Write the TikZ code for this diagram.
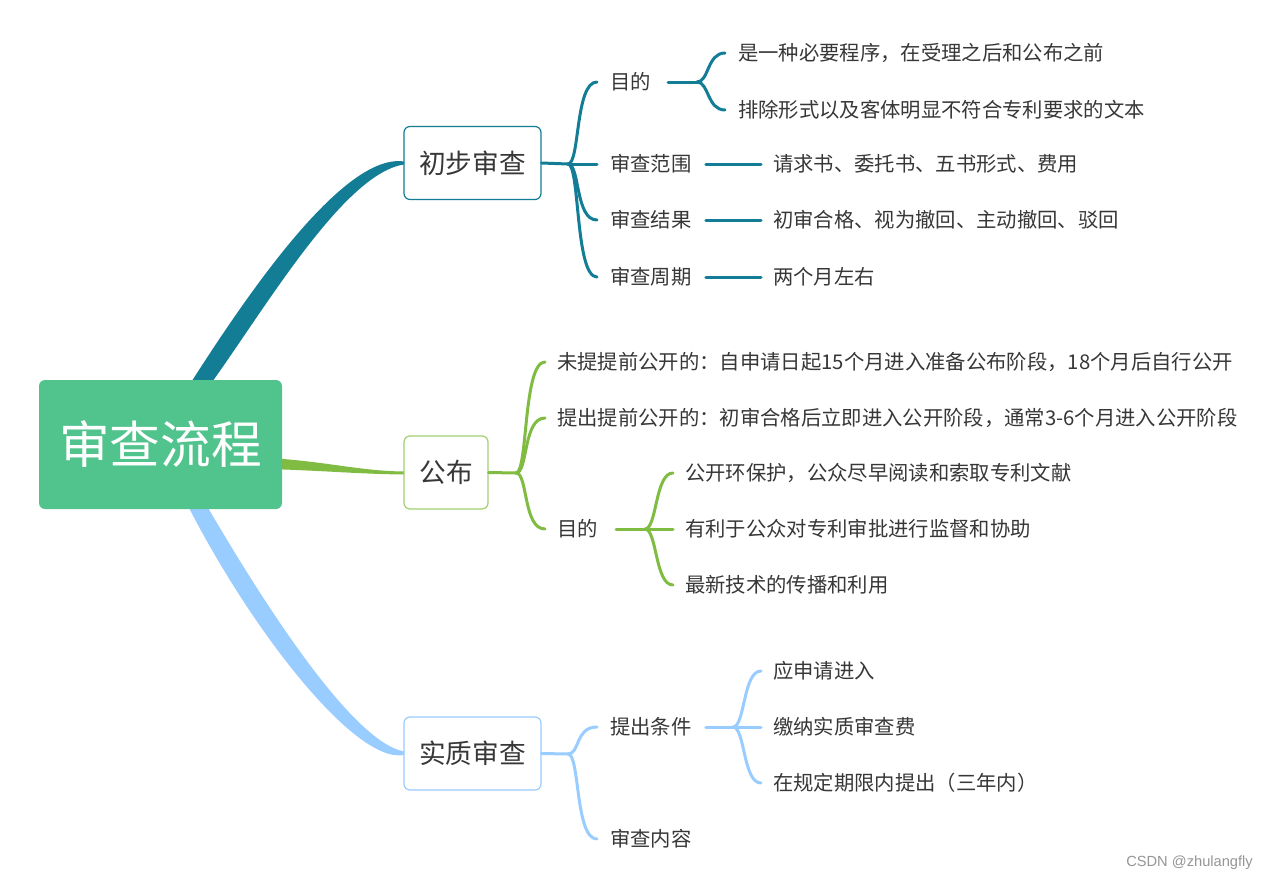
\documentclass[tikz,border=0pt]{standalone}
\usepackage{fontspec}
\setmainfont{Noto Sans CJK SC}
\newfontfamily\wmfont{Liberation Sans}
\usetikzlibrary{calc}
\definecolor{tealc}{RGB}{19,125,150}
\definecolor{grnc}{RGB}{128,188,66}
\definecolor{grnbox}{RGB}{160,208,112}
\definecolor{bluc}{RGB}{153,204,255}
\definecolor{rootc}{RGB}{81,195,140}
\definecolor{txtc}{RGB}{55,55,55}
\tikzset{
  leaf/.style={anchor=west, inner sep=0pt, text=txtc, font=\fontsize{15.25}{18}\selectfont},
  topic/.style={draw, fill=white, rounded corners=4.5pt, line width=0.9pt, text=txtc,
    font=\fontsize{20}{24}\selectfont, inner sep=0pt, minimum height={73*0.75pt}},
  br/.style={line width=2.25pt, line cap=round},
}
\begin{document}
\begin{tikzpicture}[x=0.75pt,y=-0.75pt]
\fill[white] (0,0) rectangle (1272,882);
\useasboundingbox (0,0) rectangle (1272,882);

% topic box centres
\coordinate (b1c) at (472.5,163);
\coordinate (b2c) at (446,472.5);
\coordinate (b3c) at (472.5,753.5);

% tapered main branches
\fill[tealc] (185.9,390.4) .. controls (235.2,313.2) and (340,152) .. (404,161.5)
  -- (404,164.5) .. controls (340,174) and (254.8,326.8) .. (199.1,399.6) -- cycle;
\fill[grnc] (270,458) .. controls (330,462) and (360,471) .. (404,471.5)
  -- (404,474.5) .. controls (360,474) and (330,471) .. (270,469) -- cycle;
\fill[bluc] (198.4,491.2) .. controls (268.6,613.2) and (354,742) .. (404,751.5)
  -- (404,755) .. controls (354,764) and (247.4,624.8) .. (184.4,498.8) -- cycle;

% root
\node[fill=rootc, rounded corners=4.5pt, minimum width={243*0.75pt}, minimum height={129*0.75pt},
  inner sep=0pt, text=white, font=\fontsize{38}{44}\selectfont] (root) at (160.5,444.5) {审查流程};

% topics
\node[topic, draw=tealc, minimum width={137*0.75pt}] (b1) at (b1c) {初步审查};
\node[topic, draw=grnbox, minimum width={84*0.75pt}] (b2) at (b2c) {公布};
\node[topic, draw=bluc, minimum width={137*0.75pt}] (b3) at (b3c) {实质审查};

% ---------- 初步审查 ----------
\node[leaf] (c11) at (610,82) {目的};
\node[leaf] (c12) at (610,164) {审查范围};
\node[leaf] (c13) at (610,220) {审查结果};
\node[leaf] (c14) at (610,277) {审查周期};
\node[leaf] (d111) at (738,53) {是一种必要程序，在受理之后和公布之前};
\node[leaf] (d112) at (738,110) {排除形式以及客体明显不符合专利要求的文本};
\node[leaf] (d121) at (773,164) {请求书、委托书、五书形式、费用};
\node[leaf] (d131) at (773,220) {初审合格、视为撤回、主动撤回、驳回};
\node[leaf] (d141) at (773,277) {两个月左右};

\coordinate (f1) at (568,164);
\coordinate (f11) at (697,82);
\draw[br,tealc] (b1.east) -- (f1);
\foreach \c in {c11,c12,c13,c14}
  \draw[br,tealc] (f1) .. controls +(12,0) and +(-22,0) .. ($(\c.west)+(-13,0)$);
\draw[br,tealc] ($(c11.east)+(17,0)$) -- (f11);
\foreach \c in {d111,d112}
  \draw[br,tealc] (f11) .. controls +(12,0) and +(-18,0) .. ($(\c.west)+(-13,0)$);
\draw[br,tealc] ($(c12.east)+(14,0)$) -- ($(d121.west)+(-12,0)$);
\draw[br,tealc] ($(c13.east)+(14,0)$) -- ($(d131.west)+(-12,0)$);
\draw[br,tealc] ($(c14.east)+(14,0)$) -- ($(d141.west)+(-12,0)$);

% ---------- 公布 ----------
\node[leaf] (c21) at (557,362) {未提提前公开的：自申请日起15个月进入准备公布阶段，18个月后自行公开};
\node[leaf] (c22) at (557,418) {提出提前公开的：初审合格后立即进入公开阶段，通常3-6个月进入公开阶段};
\node[leaf] (c23) at (557,529) {目的};
\node[leaf] (d231) at (685,473) {公开环保护，公众尽早阅读和索取专利文献};
\node[leaf] (d232) at (685,529) {有利于公众对专利审批进行监督和协助};
\node[leaf] (d233) at (685,585) {最新技术的传播和利用};

\coordinate (f2) at (516,473);
\coordinate (f23) at (645,529);
\draw[br,grnc] (b2.east) -- (f2);
\foreach \c in {c21,c22,c23}
  \draw[br,grnc] (f2) .. controls +(12,0) and +(-22,0) .. ($(\c.west)+(-12,0)$);
\draw[br,grnc] ($(c23.east)+(18,0)$) -- (f23);
\foreach \c in {d231,d232,d233}
  \draw[br,grnc] (f23) .. controls +(12,0) and +(-18,0) .. ($(\c.west)+(-12,0)$);

% ---------- 实质审查 ----------
\node[leaf] (c31) at (610,727) {提出条件};
\node[leaf] (c32) at (610,839) {审查内容};
\node[leaf] (d311) at (773,671) {应申请进入};
\node[leaf] (d312) at (773,727) {缴纳实质审查费};
\node[leaf] (d313) at (773,783) {在规定期限内提出（三年内）};

\coordinate (f3) at (568,754);
\coordinate (f31) at (733,727);
\draw[br,bluc] (b3.east) -- (f3);
\foreach \c in {c31,c32}
  \draw[br,bluc] (f3) .. controls +(12,0) and +(-22,0) .. ($(\c.west)+(-13,0)$);
\draw[br,bluc] ($(c31.east)+(14,0)$) -- (f31);
\foreach \c in {d311,d312,d313}
  \draw[br,bluc] (f31) .. controls +(12,0) and +(-18,0) .. ($(\c.west)+(-12,0)$);

% watermark
\node[anchor=west, inner sep=0pt, text={rgb,255:red,150;green,150;blue,150},
  font=\wmfont\fontsize{11}{13}\selectfont] (wm) at (1126,863) {CSDN @zhulangfly};
\end{tikzpicture}
\end{document}
